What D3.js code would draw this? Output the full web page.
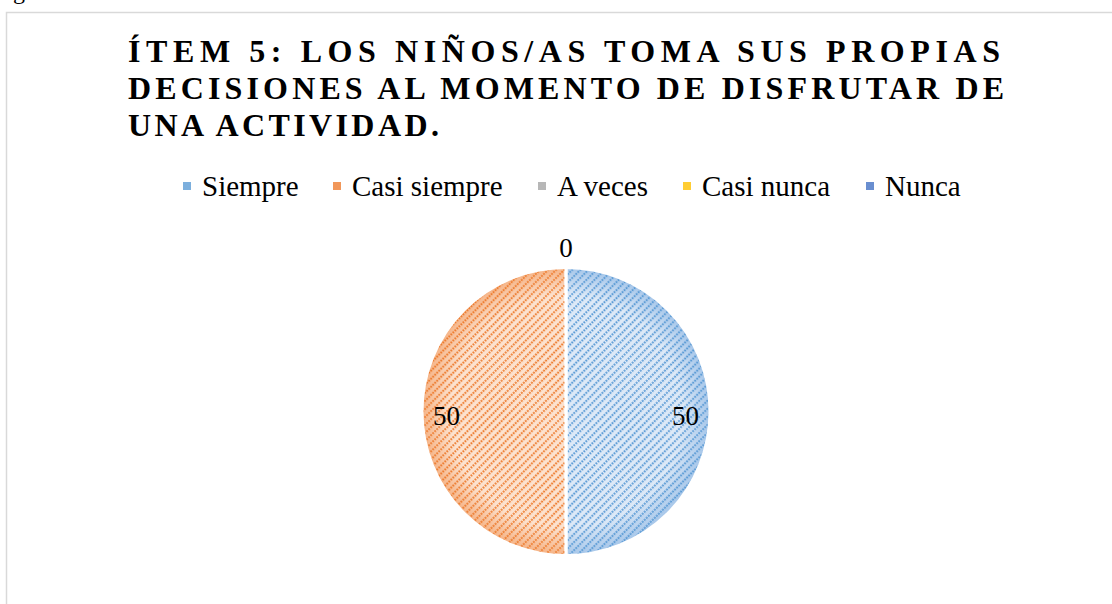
<!DOCTYPE html>
<html>
<head>
<meta charset="utf-8">
<script src="https://cdn.jsdelivr.net/npm/d3@7"></script>
<style>
  body { margin: 0; background: #fff; }
  svg { display: block; }
</style>
</head>
<body>
<svg id="chart" width="1112" height="604"></svg>
<script>
// data
const categories = ['Siempre', 'Casi siempre', 'A veces', 'Casi nunca', 'Nunca']
const values = [50, 50, 0, 0, 0]
const titleLines = [
  'ÍTEM 5: LOS NIÑOS/AS TOMA SUS PROPIAS',
  'DECISIONES AL MOMENTO DE DISFRUTAR DE',
  'UNA ACTIVIDAD.'
]
const baseColors = ['#5b9bd5', '#ed7d31', '#a5a5a5', '#ffc000', '#4472c4']
const lightColors = ['#dde9f7', '#fce2cf', '#e8e8e8', '#fff1c4', '#d6e0f3']
const edgeColors = ['#a4c5e9', '#f5b284', '#c9c9c9', '#ffdc78', '#9fb5e2']

const svg = d3.select('#chart')
const defs = svg.append('defs')

const font = '"Liberation Serif", "Times New Roman", serif'

// caption above the frame, cut by the page edge
svg.append('text')
  .attr('x', -7).attr('y', -1)
  .attr('font-family', font).attr('font-size', 24)
  .text('Figura 5')

// chart frame
svg.append('rect')
  .attr('x', 6.5).attr('y', 12.5)
  .attr('width', 1130).attr('height', 620)
  .attr('fill', '#fff')
  .attr('stroke', '#d9d9d9')
  .attr('stroke-width', 1.5)

// title: first two lines spread across the box width, last line natural
const titleLeft = 128
const lineWidths = [872, 876, null]
svg.append('g')
  .selectAll('text')
  .data(titleLines)
  .join('text')
    .attr('x', titleLeft)
    .attr('y', (d, i) => 62 + i * 37)
    .attr('font-family', font)
    .attr('font-size', 32)
    .attr('font-weight', 'bold')
    .attr('letter-spacing', (d, i) => lineWidths[i] ? null : 3.4)
    .attr('textLength', (d, i) => lineWidths[i])
    .attr('lengthAdjust', 'spacing')
    .attr('fill', '#000')
    .text(d => d)

// fills: radial gradient + dotted diagonal stripes
categories.forEach((c, i) => {
  const grad = defs.append('radialGradient')
    .attr('id', 'grad' + i)
    .attr('gradientUnits', 'userSpaceOnUse')
    .attr('cx', 0).attr('cy', 0).attr('r', 145)
  grad.append('stop').attr('offset', '0%').attr('stop-color', lightColors[i])
  grad.append('stop').attr('offset', '80%').attr('stop-color', lightColors[i])
  grad.append('stop').attr('offset', '100%').attr('stop-color', edgeColors[i])

  const pat = defs.append('pattern')
    .attr('id', 'pat' + i)
    .attr('patternUnits', 'userSpaceOnUse')
    .attr('width', 5.7).attr('height', 5.7)
    .attr('patternTransform', 'rotate(45)')
  pat.append('line')
    .attr('x1', 1.2).attr('y1', 0).attr('x2', 1.2).attr('y2', 5.7)
    .attr('stroke', baseColors[i])
    .attr('stroke-width', 1.9)
    .attr('stroke-dasharray', '1.9 0.95')
})

// legend
const legendX = [183, 333, 538, 683, 866]
const legend = svg.append('g')
legend.selectAll('rect')
  .data(categories)
  .join('rect')
    .attr('x', (d, i) => legendX[i])
    .attr('y', 182)
    .attr('width', 8).attr('height', 8)
    .attr('fill', (d, i) => d3.interpolateRgb(baseColors[i], '#fff')(0.2))
legend.selectAll('text')
  .data(categories)
  .join('text')
    .attr('x', (d, i) => legendX[i] + 19)
    .attr('y', 196)
    .attr('font-family', font)
    .attr('font-size', 29)
    .attr('fill', '#000')
    .text(d => d)

// pie
const cx = 566, cy = 411.5, radius = 144
const pie = d3.pie().sort(null).value(d => d.value)
const arc = d3.arc().innerRadius(0).outerRadius(radius)
const slices = pie(categories.map((c, i) => ({ name: c, value: values[i], idx: i })))

const pg = svg.append('g').attr('transform', `translate(${cx},${cy})`)
const shown = slices.filter(d => d.value > 0)

pg.selectAll('path.base')
  .data(shown)
  .join('path')
    .attr('class', 'base')
    .attr('d', arc)
    .attr('fill', d => `url(#grad${d.data.idx})`)
pg.selectAll('path.hatch')
  .data(shown)
  .join('path')
    .attr('class', 'hatch')
    .attr('d', arc)
    .attr('fill', d => `url(#pat${d.data.idx})`)
    .attr('stroke', '#fff')
    .attr('stroke-width', 3)

// data labels (only one of the zero slices is labelled, at the top)
const labelArc = d3.arc().innerRadius(radius * 0.83).outerRadius(radius * 0.83)
let zeroDone = false
pg.selectAll('text')
  .data(slices)
  .join('text')
    .attr('text-anchor', 'middle')
    .attr('font-family', font)
    .attr('font-size', 27)
    .attr('fill', '#000')
    .attr('transform', d => {
      if (d.value === 0) return `translate(0,${-radius - 11})`
      const [x, y] = labelArc.centroid(d)
      return `translate(${x},${y + 13})`
    })
    .text(d => {
      if (d.value === 0) {
        if (zeroDone) return ''
        zeroDone = true
      }
      return d.value
    })
</script>
</body>
</html>
